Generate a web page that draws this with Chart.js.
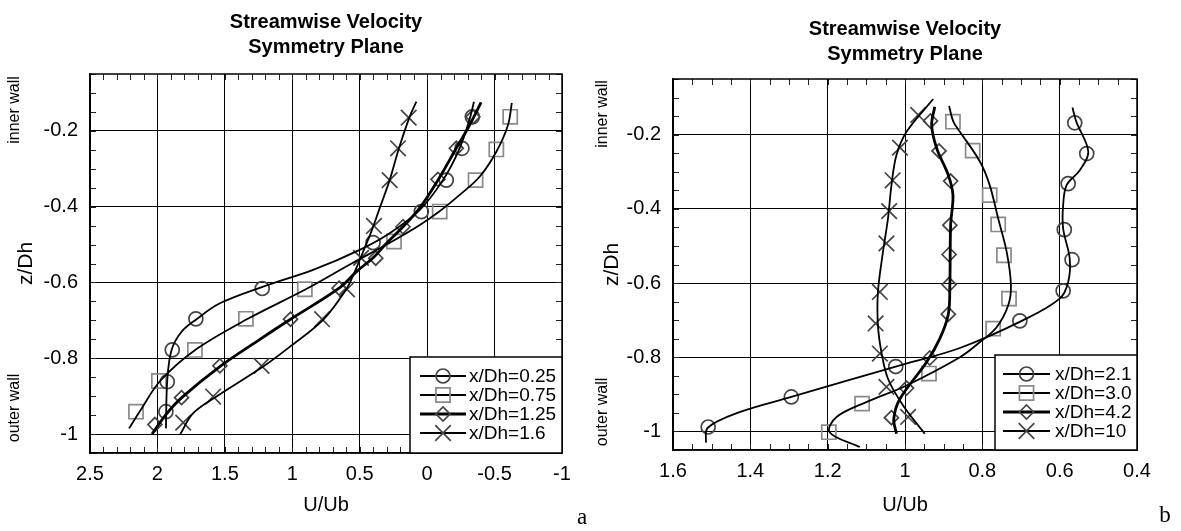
<!DOCTYPE html>
<html>
<head>
<meta charset="utf-8">
<script src="https://cdn.jsdelivr.net/npm/chart.js@4.4.0/dist/chart.umd.min.js"></script>
<style>
  html, body { margin: 0; padding: 0; background: #fff; }
  #wrap { position: relative; width: 1181px; height: 531px; }
  canvas { position: absolute; top: 0; }
  #chartA { left: 0; }
  #chartB { left: 590px; }
</style>
</head>
<body>
<div id="wrap">
  <canvas id="chartA" width="590" height="531"></canvas>
  <canvas id="chartB" width="591" height="531"></canvas>
</div>
<script>
// ---------- panel a : x/Dh = 0.25 ... 1.6 ----------
const labelsA = ['x/Dh=0.25', 'x/Dh=0.75', 'x/Dh=1.25', 'x/Dh=1.6'];
const xTicksA = [2.5, 2, 1.5, 1, 0.5, 0, -0.5, -1];
const yTicks = [-1, -0.8, -0.6, -0.4, -0.2];

// measured points (U/Ub against z/Dh)
const a025Z = [-0.163, -0.246, -0.33, -0.413, -0.495, -0.616, -0.696, -0.778, -0.862, -0.941];
const a025U = [-0.335, -0.258, -0.142, 0.043, 0.401, 1.223, 1.715, 1.89, 1.927, 1.937];
const a075Z = [-0.163, -0.249, -0.33, -0.413, -0.492, -0.618, -0.696, -0.778, -0.86, -0.941];
const a075U = [-0.616, -0.513, -0.359, -0.093, 0.246, 0.907, 1.344, 1.722, 1.989, 2.159];
const a125Z = [-0.163, -0.246, -0.328, -0.453, -0.536, -0.615, -0.697, -0.82, -0.904, -0.975];
const a125U = [-0.339, -0.216, -0.08, 0.179, 0.381, 0.653, 1.013, 1.537, 1.821, 2.019];
const a160Z = [-0.165, -0.246, -0.33, -0.451, -0.535, -0.618, -0.697, -0.82, -0.901, -0.97];
const a160U = [0.137, 0.216, 0.278, 0.394, 0.49, 0.594, 0.779, 1.228, 1.587, 1.809];

// fitted profiles
const a025FitZ = [-0.123, -0.163, -0.246, -0.33, -0.409, -0.47, -0.514, -0.567, -0.611, -0.655, -0.697, -0.73, -0.778, -0.857, -0.985];
const a025FitU = [-0.347, -0.32, -0.241, -0.117, 0.056, 0.278, 0.5, 0.846, 1.216, 1.537, 1.71, 1.821, 1.895, 1.927, 1.937];
const a075FitZ = [-0.126, -0.185, -0.255, -0.321, -0.369, -0.413, -0.45, -0.492, -0.55, -0.618, -0.696, -0.778, -0.86, -0.94, -0.985];
const a075FitU = [-0.628, -0.599, -0.513, -0.389, -0.241, -0.09, 0.06, 0.26, 0.56, 0.9, 1.33, 1.72, 1.98, 2.13, 2.21];
const a125FitZ = [-0.125, -0.185, -0.246, -0.33, -0.404, -0.453, -0.5, -0.535, -0.57, -0.615, -0.697, -0.75, -0.82, -0.904, -0.95, -1.0];
const a125FitU = [-0.4, -0.315, -0.216, -0.08, 0.056, 0.179, 0.31, 0.4, 0.52, 0.653, 1.013, 1.24, 1.53, 1.82, 1.94, 2.04];
const a160FitZ = [-0.123, -0.163, -0.246, -0.33, -0.404, -0.466, -0.519, -0.572, -0.618, -0.699, -0.77, -0.822, -0.901, -0.945, -1.0];
const a160FitU = [0.08, 0.13, 0.209, 0.278, 0.352, 0.414, 0.475, 0.537, 0.6, 0.772, 1.019, 1.216, 1.562, 1.735, 1.83];

// ---------- panel b : x/Dh = 2.1 ... 10 ----------
const labelsB = ['x/Dh=2.1', 'x/Dh=3.0', 'x/Dh=4.2', 'x/Dh=10'];
const xTicksB = [1.6, 1.4, 1.2, 1, 0.8, 0.6, 0.4];

const b21Z = [-0.168, -0.251, -0.332, -0.456, -0.537, -0.621, -0.702, -0.825, -0.907, -0.988];
const b21U = [0.561, 0.53, 0.578, 0.588, 0.568, 0.591, 0.703, 1.024, 1.294, 1.509];
const b30Z = [-0.165, -0.243, -0.363, -0.442, -0.525, -0.642, -0.723, -0.844, -0.925, -1.002];
const b30U = [0.876, 0.825, 0.781, 0.759, 0.744, 0.731, 0.772, 0.938, 1.111, 1.197];
const b42Z = [-0.163, -0.244, -0.325, -0.444, -0.523, -0.604, -0.684, -0.802, -0.883, -0.963];
const b42U = [0.934, 0.912, 0.882, 0.884, 0.886, 0.886, 0.888, 0.936, 0.996, 1.035];
const b10Z = [-0.147, -0.235, -0.323, -0.406, -0.493, -0.624, -0.709, -0.79, -0.88, -0.961];
const b10U = [0.966, 1.013, 1.032, 1.041, 1.048, 1.065, 1.076, 1.065, 1.048, 0.992];

const b21FitZ = [-0.127, -0.165, -0.246, -0.296, -0.336, -0.39, -0.453, -0.534, -0.597, -0.642, -0.7, -0.775, -0.825, -0.907, -0.948, -0.99, -1.03];
const b21FitU = [0.567, 0.557, 0.526, 0.548, 0.582, 0.591, 0.591, 0.574, 0.578, 0.6, 0.694, 0.858, 1.024, 1.294, 1.428, 1.51, 1.515];
const b30FitZ = [-0.123, -0.165, -0.192, -0.273, -0.336, -0.426, -0.516, -0.606, -0.66, -0.719, -0.759, -0.8, -0.876, -0.921, -0.961, -1.002, -1.042];
const b30FitU = [0.886, 0.875, 0.858, 0.806, 0.781, 0.759, 0.737, 0.726, 0.733, 0.763, 0.806, 0.858, 0.996, 1.1, 1.177, 1.195, 1.117];
const b42FitZ = [-0.125, -0.174, -0.237, -0.309, -0.363, -0.444, -0.606, -0.684, -0.75, -0.813, -0.912, -0.966, -1.006];
const b42FitU = [0.923, 0.931, 0.918, 0.888, 0.876, 0.882, 0.884, 0.888, 0.91, 0.944, 1.013, 1.029, 1.022];
const b10FitZ = [-0.104, -0.192, -0.255, -0.336, -0.426, -0.516, -0.624, -0.714, -0.786, -0.858, -0.93, -1.006];
const b10FitU = [0.927, 0.996, 1.022, 1.035, 1.044, 1.057, 1.07, 1.07, 1.061, 1.044, 1.005, 0.949];

const FONT = "'Liberation Sans', Arial, sans-serif";
const DARK = '#444';
const LIGHT = '#8a8a8a';

// marker look per series slot: circle, square, diamond, cross
const STYLES = [
  { pointStyle: 'circle', radius: 7, color: DARK, line: 1.8 },
  { pointStyle: 'rect', radius: 10, color: LIGHT, line: 1.8 },
  { pointStyle: 'rectRot', radius: 7, color: DARK, line: 2.8 },
  { pointStyle: 'crossRot', radius: 11, color: DARK, line: 1.8 }
];

function toXY(zs, us) {
  return zs.map((z, i) => ({ x: us[i], y: z }));
}

function fitLine(zs, us, s) {
  return {
    data: toXY(zs, us),
    showLine: true,
    borderColor: '#000',
    borderWidth: s.line,
    tension: 0.35,
    pointRadius: 0,
    pointHoverRadius: 0
  };
}

function markers(zs, us, s) {
  return {
    data: toXY(zs, us),
    showLine: false,
    pointStyle: s.pointStyle,
    pointRadius: s.radius,
    pointHoverRadius: s.radius,
    pointBorderColor: s.color,
    pointBackgroundColor: 'rgba(0,0,0,0)',
    pointBorderWidth: 1.7
  };
}

function drawMarker(ctx, style, x, y, r) {
  ctx.beginPath();
  if (style === 'circle') {
    ctx.arc(x, y, r, 0, Math.PI * 2);
  } else if (style === 'rect') {
    const s = r * Math.SQRT1_2;
    ctx.rect(x - s, y - s, 2 * s, 2 * s);
  } else if (style === 'rectRot') {
    ctx.moveTo(x - r, y); ctx.lineTo(x, y - r); ctx.lineTo(x + r, y); ctx.lineTo(x, y + r); ctx.closePath();
  } else {
    const s = r * Math.SQRT1_2;
    ctx.moveTo(x - s, y - s); ctx.lineTo(x + s, y + s);
    ctx.moveTo(x - s, y + s); ctx.lineTo(x + s, y - s);
  }
  ctx.stroke();
}

// frame, inward minor ticks, side notes and the legend box
const decor = {
  id: 'decor',
  afterDraw(chart, args, o) {
    const { ctx, chartArea: ca, scales: { x, y } } = chart;
    ctx.save();

    ctx.strokeStyle = '#222';
    ctx.lineWidth = 1;
    ctx.beginPath();
    const nx = Math.round((o.xMax - o.xMin) / o.xMinor);
    for (let i = 0; i <= nx; i++) {
      const px = Math.round(x.getPixelForValue(o.xMin + i * o.xMinor)) + 0.5;
      ctx.moveTo(px, ca.top); ctx.lineTo(px, ca.top + 6);
      ctx.moveTo(px, ca.bottom); ctx.lineTo(px, ca.bottom - 6);
    }
    const ny = Math.round((o.yMax - o.yMin) / o.yMinor);
    for (let i = 0; i <= ny; i++) {
      const py = Math.round(y.getPixelForValue(o.yMin + i * o.yMinor)) + 0.5;
      ctx.moveTo(ca.left, py); ctx.lineTo(ca.left + 6, py);
      ctx.moveTo(ca.right, py); ctx.lineTo(ca.right - 6, py);
    }
    ctx.stroke();

    ctx.strokeStyle = '#000';
    ctx.lineWidth = 1.5;
    ctx.strokeRect(ca.left, ca.top, ca.right - ca.left, ca.bottom - ca.top);

    // wall notes beside the axis
    ctx.fillStyle = '#000';
    ctx.font = '16px ' + FONT;
    ctx.textAlign = 'center';
    ctx.textBaseline = 'middle';
    [['inner wall', o.innerY], ['outer wall', o.outerY]].forEach(([t, yy]) => {
      ctx.save();
      ctx.translate(o.wallX, yy);
      ctx.rotate(-Math.PI / 2);
      ctx.fillText(t, 0, 0);
      ctx.restore();
    });

    // panel letter
    ctx.font = '23px "Liberation Serif", "Times New Roman", serif';
    ctx.fillText(o.letter, o.letterX, o.letterY);

    // legend
    const lx = ca.right - o.legW, ly = ca.bottom - o.legH;
    ctx.fillStyle = '#fff';
    ctx.fillRect(lx, ly, o.legW, o.legH);
    ctx.strokeStyle = '#000';
    ctx.lineWidth = 1.5;
    ctx.strokeRect(lx, ly, o.legW, o.legH);
    ctx.font = '19px ' + FONT;
    ctx.textAlign = 'left';
    o.labels.forEach((t, i) => {
      const s = STYLES[i];
      const ry = ly + 19 + i * 19;
      ctx.strokeStyle = '#000';
      ctx.lineWidth = s.line;
      ctx.beginPath();
      ctx.moveTo(lx + o.lineL, ry); ctx.lineTo(lx + o.lineR, ry);
      ctx.stroke();
      ctx.strokeStyle = s.color;
      ctx.lineWidth = 1.7;
      drawMarker(ctx, s.pointStyle, lx + (o.lineL + o.lineR) / 2, ry, s.radius);
      ctx.fillStyle = '#000';
      ctx.fillText(t, lx + o.textX, ry + 1);
    });
    ctx.restore();
  }
};

function fmt(v) {
  return String(+v.toFixed(2));
}

function makeChart(id, p) {
  const datasets = [];
  p.fits.forEach((f, i) => datasets.push(fitLine(f[0], f[1], STYLES[i])));
  p.points.forEach((m, i) => datasets.push(markers(m[0], m[1], STYLES[i])));

  return new Chart(document.getElementById(id), {
    type: 'scatter',
    data: { datasets },
    plugins: [decor],
    options: {
      responsive: false,
      animation: false,
      events: [],
      layout: { padding: { top: 0, left: 0, right: p.padRight, bottom: 0 } },
      plugins: {
        legend: { display: false },
        tooltip: { enabled: false },
        title: {
          display: true,
          fullSize: false,
          text: ['Streamwise Velocity', 'Symmetry Plane'],
          color: '#000',
          font: { family: FONT, size: 20, weight: 'bold', lineHeight: 1.25 },
          padding: { top: p.titleTop, bottom: p.titleBottom }
        },
        decor: p.decor
      },
      scales: {
        x: {
          type: 'linear',
          reverse: true,
          min: p.xMin,
          max: p.xMax,
          afterBuildTicks: s => { s.ticks = p.xTicks.map(v => ({ value: v })); },
          afterFit: s => { s.height = p.xAxisH; },
          grid: { color: '#000', lineWidth: 1, drawTicks: false },
          border: { color: '#000', width: 1.5 },
          ticks: { padding: 9, color: '#000', font: { family: FONT, size: 20 }, callback: fmt, maxRotation: 0, autoSkip: false },
          title: { display: true, text: 'U/Ub', color: '#000', font: { family: FONT, size: 20 }, padding: { top: 0, bottom: 14 } }
        },
        y: {
          type: 'linear',
          min: -1.05,
          max: -0.05,
          afterBuildTicks: s => { s.ticks = yTicks.map(v => ({ value: v })); },
          afterFit: s => { s.width = p.yAxisW; },
          grid: { color: '#000', lineWidth: 1, drawTicks: false },
          border: { color: '#000', width: 1.5 },
          ticks: { padding: 12, color: '#000', font: { family: FONT, size: 20 }, callback: fmt, autoSkip: false },
          title: { display: true, text: 'z/Dh', color: '#000', font: { family: FONT, size: 21 }, padding: { top: p.yTitlePad, bottom: 0 } }
        }
      }
    }
  });
}

makeChart('chartA', {
  fits: [[a025FitZ, a025FitU], [a075FitZ, a075FitU], [a125FitZ, a125FitU], [a160FitZ, a160FitU]],
  points: [[a025Z, a025U], [a075Z, a075U], [a125Z, a125U], [a160Z, a160U]],
  xMin: -1, xMax: 2.5, xTicks: xTicksA,
  padRight: 28, xAxisH: 78, yAxisW: 90, yTitlePad: 14,
  titleTop: 10, titleBottom: 14,
  decor: {
    xMin: -1, xMax: 2.5, xMinor: 0.1, yMin: -1.05, yMax: -0.05, yMinor: 0.05,
    wallX: 15, innerY: 110, outerY: 408, letter: 'a', letterX: 582, letterY: 518,
    labels: labelsA, legW: 152, legH: 96, lineL: 10, lineR: 56, textX: 59
  }
});

makeChart('chartB', {
  fits: [[b21FitZ, b21FitU], [b30FitZ, b30FitU], [b42FitZ, b42FitU], [b10FitZ, b10FitU]],
  points: [[b21Z, b21U], [b30Z, b30U], [b42Z, b42U], [b10Z, b10U]],
  xMin: 0.4, xMax: 1.6, xTicks: xTicksB,
  padRight: 44, xAxisH: 81, yAxisW: 83, yTitlePad: 10,
  titleTop: 16.5, titleBottom: 12.5,
  decor: {
    xMin: 0.4, xMax: 1.6, xMinor: 0.05, yMin: -1.05, yMax: -0.05, yMinor: 0.05,
    wallX: 13, innerY: 114, outerY: 412, letter: 'b', letterX: 575, letterY: 516,
    labels: labelsB, legW: 142, legH: 95, lineL: 8, lineR: 55, textX: 60
  }
});
</script>
</body>
</html>
